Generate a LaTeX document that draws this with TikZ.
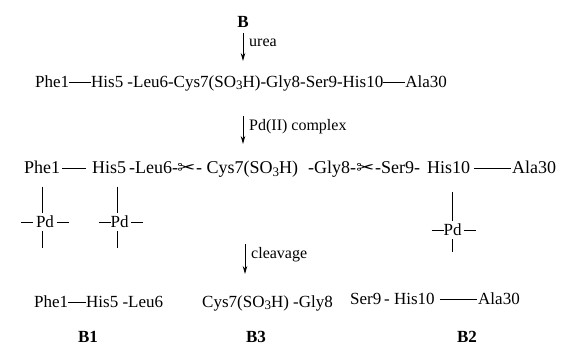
\documentclass[tikz,border=0pt]{standalone}
\usepackage{fontspec}
\setmainfont{Liberation Serif}
\newfontfamily\symfont{DejaVu Sans}
\usetikzlibrary{arrows.meta}
\newcommand{\bnd}[1]{\rule[0.3em]{#1}{0.6pt}}
\newcommand{\scis}{{\symfont\fontsize{17}{17}\selectfont\raisebox{0.0em}{\scalebox{1.3}[1]{✂}}}}
\newcommand{\sothree}{(SO\raisebox{-0.25ex}{\fontsize{13}{13}\selectfont 3}H)}
\begin{document}
\begin{tikzpicture}[x=1pt,y=1pt,
  t/.style={inner sep=0pt, anchor=base west, font=\fontsize{17}{19}\selectfont},
  tb/.style={inner sep=0pt, anchor=base west, font=\fontsize{18}{20}\selectfont},
  tc/.style={inner sep=0pt, anchor=base, font=\fontsize{17}{19}\selectfont},
  lbl/.style={inner sep=0pt, anchor=west, font=\fontsize{16}{18}\selectfont},
  bold/.style={inner sep=0pt, anchor=base, font=\fontsize{17}{19}\selectfont\bfseries},
  pd/.style={inner sep=3pt, anchor=center, font=\fontsize{17}{19}\selectfont},
  arr/.style={-{Stealth[length=8pt,width=4.5pt]}, line width=0.8pt},
  bond/.style={line width=0.8pt}]
\useasboundingbox (0,0) rectangle (584,-347);
% B
\node[bold] (B) at (243,-28) {B};
\coordinate (a1s) at (243,-33);
\coordinate (a1e) at (243,-61);
\draw[arr] (a1s) -- (a1e);
\node[lbl] (urea) at (249,-43) {urea};
% line 1
\node[tc] (l1) at (241,-88) {Phe1\bnd{22pt}His5 -Leu6-Cys7\sothree-Gly8-Ser9-His10\bnd{22pt}Ala30};
% arrow 2
\coordinate (a2s) at (243,-116);
\coordinate (a2e) at (243,-144);
\draw[arr] (a2s) -- (a2e);
\node[lbl] (pdc) at (249,-127) {Pd(II) complex};
% line 2
\node[tb] (phe) at (24,-174) {Phe1};
\node[tb] (his5) at (92,-174) {His5};
\node[tb] (leu) at (129,-174) {-Leu6-};
\node[tb] (sc1) at (177,-174) {\scis};
\node[tb] (cys) at (196,-174) {-\ Cys7\sothree};
\node[tb] (gly) at (308,-174) {-Gly8-};
\node[tb] (sc2) at (356,-174) {\scis};
\node[tb] (ser) at (375,-174) {-Ser9-};
\node[tb] (his10) at (427,-174) {His10};
\node[tb] (ala) at (512,-174) {Ala30};
\draw[bond] ([xshift=2pt,yshift=5.8pt]phe.base east) -- ([xshift=-6pt,yshift=5.8pt]his5.base west);
\draw[bond] ([xshift=4pt,yshift=5.8pt]his10.base east) -- ([xshift=-1pt,yshift=5.8pt]ala.base west);
% Pd complexes
\node[pd] (pd1) at (45,-222) {\bnd{12pt}\,Pd\,\bnd{12pt}};
\node[pd] (pd2) at (121,-222) {\bnd{12pt}Pd\,\bnd{12pt}};
\node[pd] (pd3) at (454,-230) {\bnd{12pt}Pd\,\bnd{12pt}};
\coordinate (pd1b) at (42,-248);
\coordinate (pd2b) at (117,-248);
\coordinate (pd3b) at (452,-252);
\draw[bond] ([yshift=-13pt]phe.base -| pd1b) -- (pd1.north -| pd1b);
\draw[bond] ([yshift=-13pt]his5.base -| pd2b) -- (pd2.north -| pd2b);
\draw[bond] ([yshift=-18pt]his10.base -| pd3b) -- (pd3.north -| pd3b);
\draw[bond] (pd1.south -| pd1b) -- (pd1b);
\draw[bond] (pd2.south -| pd2b) -- (pd2b);
\draw[bond] (pd3.south -| pd3b) -- (pd3b);
% arrow 3
\coordinate (a3s) at (245,-244);
\coordinate (a3e) at (245,-274);
\draw[arr] (a3s) -- (a3e);
\node[lbl] (clv) at (251,-255) {cleavage};
% products
\node[t] (p1) at (34,-308) {Phe1\bnd{18pt}His5 -Leu6};
\node[t] (p3) at (202,-308) {Cys7\sothree\ -Gly8};
\node[t] (p2s) at (350,-305) {Ser9\,- His10};
\node[t] (p2a) at (478,-305) {Ala30};
\draw[bond] ([xshift=5pt,yshift=5.5pt]p2s.base east) -- ([xshift=-1pt,yshift=5.5pt]p2a.base west);
\node[bold] (B1) at (88,-343) {B1};
\node[bold] (B3) at (256,-343) {B3};
\node[bold] (B2) at (467,-343) {B2};
\end{tikzpicture}
\end{document}
